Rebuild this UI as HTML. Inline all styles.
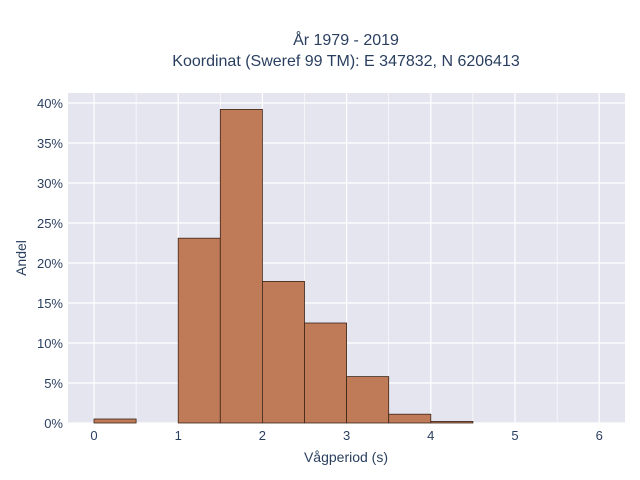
<!DOCTYPE html>
<html><head><meta charset="utf-8"><style>
body{margin:0;background:#fff;}
svg{display:block;font-family:"Liberation Sans",sans-serif;}
</style></head><body>
<svg id="chart" width="640" height="480" viewBox="0 0 640 480">
<text x="346" y="45" text-anchor="middle" font-size="16" fill="#2a3f5f">År 1979 - 2019</text>
<text x="346" y="66" text-anchor="middle" font-size="16" fill="#2a3f5f">Koordinat (Sweref 99 TM): E 347832, N 6206413</text>
<rect x="68" y="93" width="557" height="330" fill="#e5e5f0"/>
<g id="grid"></g>
<g id="bars"></g>
<g id="xticks"></g>
<g id="yticks"></g>
<text x="346" y="462" text-anchor="middle" font-size="14" fill="#2a3f5f">Vågperiod (s)</text>
<text transform="translate(26,258) rotate(-90)" text-anchor="middle" font-size="14" fill="#2a3f5f">Andel</text>
</svg>
<script>
const binStarts = [0, 1, 1.5, 2, 2.5, 3, 3.5, 4];
const binWidth = 0.5;
const shares = [0.5, 23.1, 39.2, 17.7, 12.5, 5.8, 1.1, 0.2];
const xTickLabels = ["0","1","2","3","4","5","6"];
const yTickValues = [0,5,10,15,20,25,30,35,40];

const NS = "http://www.w3.org/2000/svg";
const x = v => 94 + v * 84.2;
const y = v => 423 - v * 8;
function mk(tag, attrs, parent){const e=document.createElementNS(NS,tag);for(const k in attrs)e.setAttribute(k,attrs[k]);parent.appendChild(e);return e;}
const grid=document.getElementById("grid"), bars=document.getElementById("bars"), xt=document.getElementById("xticks"), yt=document.getElementById("yticks");
for(let i=0;i<=12;i++){
  const l=mk("line",{x1:x(i*0.5),x2:x(i*0.5),y1:93,y2:423,stroke:"#fff","stroke-width":i%2?0.6:1.2},grid);
  
  
}
yTickValues.forEach(v=>{
  const l=mk("line",{x1:68,x2:625,y1:y(v),y2:y(v),stroke:"#fff","stroke-width":1.2},grid);
  
  
  const t=mk("text",{x:63,y:y(v)+5,"text-anchor":"end","font-size":13,fill:"#2a3f5f"},yt);
  t.textContent=v+"%";
  
  
});
xTickLabels.forEach((s,i)=>{
  const t=mk("text",{x:x(+s),y:440,"text-anchor":"middle","font-size":13,fill:"#2a3f5f"},xt);
  t.textContent=s;
  
  
});
binStarts.forEach((b,i)=>{
  const r=mk("rect",{x:x(b),y:y(shares[i]),width:x(b+binWidth)-x(b),height:y(0)-y(shares[i]),fill:"#bf7b57",stroke:"#3d2518","stroke-width":0.8},bars);
  
  
});
</script>
</body></html>
